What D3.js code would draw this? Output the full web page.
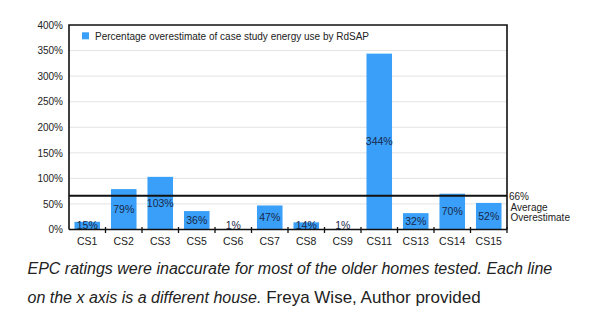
<!DOCTYPE html>
<html>
<head>
<meta charset="utf-8">
<script src="https://cdn.jsdelivr.net/npm/d3@7"></script>
<style>
  html, body { margin: 0; padding: 0; background: #fff; }
  svg { display: block; }
</style>
</head>
<body>
<svg id="chart" width="590" height="327"></svg>
<script>
// Case studies and the percentage by which RdSAP overestimates their energy use
const categories = ["CS1", "CS2", "CS3", "CS5", "CS6", "CS7", "CS8", "CS9", "CS11", "CS13", "CS14", "CS15"];
const overestimates = [15, 79, 103, 36, 1, 47, 14, 1, 344, 32, 70, 52];
const averageOverestimate = 66;
const yTicks = [0, 50, 100, 150, 200, 250, 300, 350, 400];
const legendLabel = "Percentage overestimate of case study energy use by RdSAP";
const averageLabels = ["66%", "Average", "Overestimate"];

const svg = d3.select("#chart");
const font = "Helvetica, Arial, 'Liberation Sans', sans-serif";

const plot = { left: 69, right: 507, top: 25, bottom: 229.5 };

const x = d3.scaleBand()
  .domain(categories)
  .range([plot.left, plot.right])
  .paddingInner(0.3)
  .paddingOuter(0.15);

const y = d3.scaleLinear()
  .domain([0, 400])
  .range([plot.bottom, plot.top]);

// Horizontal grid lines
svg.append("g")
  .selectAll("line")
  .data(yTicks.filter(d => d > 0 && d < 400))
  .join("line")
  .attr("x1", plot.left).attr("x2", plot.right)
  .attr("y1", d => y(d)).attr("y2", d => y(d))
  .attr("stroke", "#e3e3e3")
  .attr("stroke-width", 1);

// Y axis labels
const yAxis = d3.axisLeft(y).tickValues(yTicks).tickFormat(d => d + "%").tickSize(0).tickPadding(6);
const yg = svg.append("g").attr("transform", `translate(${plot.left},0)`).call(yAxis);
yg.select(".domain").remove();
yg.selectAll("text")
  .attr("font-family", font)
  .attr("font-size", 10)
  .attr("fill", "#222");

// Bars
const data = categories.map((c, i) => ({ cat: c, value: overestimates[i] }));
svg.append("g")
  .selectAll("rect")
  .data(data)
  .join("rect")
  .attr("x", d => x(d.cat))
  .attr("width", x.bandwidth())
  .attr("y", d => y(d.value))
  .attr("height", d => plot.bottom - y(d.value))
  .attr("fill", "#3a9ff8");

// Value labels, centred in each bar (kept clear of the baseline for tiny bars)
svg.append("g")
  .selectAll("text")
  .data(data)
  .join("text")
  .attr("x", d => x(d.cat) + x.bandwidth() / 2)
  .attr("y", d => Math.min((y(d.value) + y(0)) / 2, y(0) - 4.5))
  .attr("dy", "0.35em")
  .attr("text-anchor", "middle")
  .attr("font-family", font)
  .attr("font-size", 10.5)
  .attr("fill", "#17284a")
  .text(d => d.value + "%");

// Frame: left, top and right borders
svg.append("path")
  .attr("d", `M${plot.left},${plot.bottom} V${plot.top} H${plot.right} V${plot.bottom}`)
  .attr("fill", "none")
  .attr("stroke", "#111")
  .attr("stroke-width", 1.6);

// X axis baseline with ticks between categories
svg.append("line")
  .attr("x1", plot.left).attr("x2", plot.right)
  .attr("y1", plot.bottom).attr("y2", plot.bottom)
  .attr("stroke", "#111").attr("stroke-width", 1.6);

svg.append("g")
  .selectAll("line")
  .data(d3.range(1, categories.length + 1))
  .join("line")
  .attr("x1", i => plot.left + i * (plot.right - plot.left) / categories.length)
  .attr("x2", i => plot.left + i * (plot.right - plot.left) / categories.length)
  .attr("y1", plot.bottom - 2.5)
  .attr("y2", plot.bottom + 3.5)
  .attr("stroke", "#111")
  .attr("stroke-width", 1.3);

// Category labels
svg.append("g")
  .selectAll("text")
  .data(categories)
  .join("text")
  .attr("x", d => x(d) + x.bandwidth() / 2)
  .attr("y", 245)
  .attr("text-anchor", "middle")
  .attr("font-family", font)
  .attr("font-size", 10.5)
  .attr("fill", "#222")
  .text(d => d);

// Average overestimate line
svg.append("line")
  .attr("x1", plot.left).attr("x2", plot.right)
  .attr("y1", y(averageOverestimate)).attr("y2", y(averageOverestimate))
  .attr("stroke", "#111").attr("stroke-width", 1.8);

svg.append("g")
  .selectAll("text")
  .data(averageLabels)
  .join("text")
  .attr("x", (d, i) => i === 0 ? 509 : 510.5)
  .attr("y", (d, i) => y(averageOverestimate) + 4.5 + i * 10.5)
  .attr("font-family", font)
  .attr("font-size", 10)
  .attr("fill", "#222")
  .text(d => d);

// Legend
svg.append("rect")
  .attr("x", 82).attr("y", 32.3)
  .attr("width", 7).attr("height", 7)
  .attr("fill", "#3a9ff8");
svg.append("text")
  .attr("x", 95).attr("y", 39.5)
  .attr("font-family", font)
  .attr("font-size", 10)
  .attr("fill", "#222")
  .text(legendLabel);

// Caption
const caption = svg.append("g").attr("font-family", font).attr("font-size", 16).attr("fill", "#222");
caption.append("text")
  .attr("x", 27.5).attr("y", 274)
  .attr("font-style", "italic")
  .text("EPC ratings were inaccurate for most of the older homes tested. Each line");
const line2 = caption.append("text").attr("x", 27.5).attr("y", 303);
line2.append("tspan").attr("font-style", "italic").text("on the x axis is a different house.");
line2.append("tspan").attr("font-size", 17).text(" Freya Wise, Author provided");
</script>
</body>
</html>
